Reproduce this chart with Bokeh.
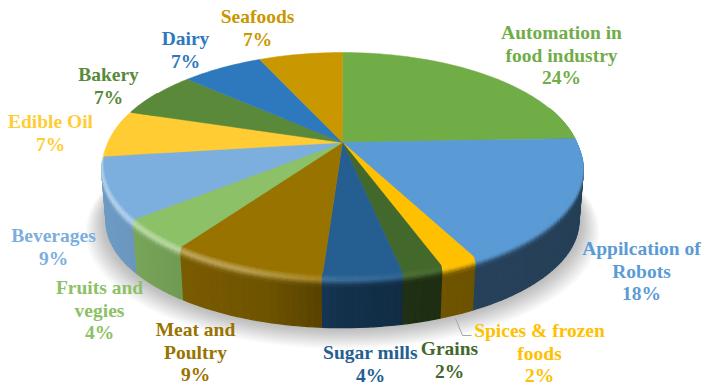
import numpy as np
from bokeh.embed import file_html
from bokeh.models import ColumnDataSource, Range1d
from bokeh.plotting import figure
from bokeh.resources import INLINE
from bokeh.core.properties import value

# Slice data, clockwise from twelve o'clock
names = ["Automation in\nfood industry", "Appilcation of\nRobots", "Spices & frozen\nfoods", "Grains",
         "Sugar mills", "Meat and\nPoultry", "Fruits and\nvegies", "Beverages",
         "Edible Oil", "Bakery", "Dairy", "Seafoods"]
shares = [24.4, 17.9, 2.1, 2.3, 4.4, 8.7, 4.4, 8.8, 6.8, 6.8, 6.6, 6.8]
colors = ["#70AD47", "#5B9BD5", "#FFC000", "#43682B", "#255E91", "#997300",
          "#8CC168", "#7CAFDD", "#FFCD33", "#5A8A39", "#2E78BD", "#C99700"]
label_x = [561, 641, 539, 449, 370, 195, 99, 53, 50, 108, 185, 257]
label_y = [32, 248, 330, 348, 352, 329, 287, 235, 121, 74, 38, 16]

# Pie geometry in page pixels
CX, CY = 342.0, 142.0
RX, RY, PERSP = 234.0, 107.0, 0.189
DROP, SHRINK_X, SHRINK_Y = 58.0, 0.02, 0.05
BEVEL_DEPTH, BEVEL_FLARE = 0.20, 0.012
LINE_STEP = 22.5


def project(theta, r=1.0, d=0.0):
    """Map a polar point on the disc at depth d (0 top, 1 bottom) to the page."""
    t = np.radians(theta)
    u, v = r * np.sin(t), r * np.cos(t)
    w = 1 + PERSP * v
    return (CX + RX * u / w * (1 - SHRINK_X * d),
            CY - RY * v / w * (1 - SHRINK_Y * d) + DROP * d)


def rgb(hex_color):
    return np.array([int(hex_color[i:i + 2], 16) for i in (1, 3, 5)], float)


def to_hex(c):
    c = np.clip(np.round(c), 0, 255).astype(int)
    return "#%02x%02x%02x" % tuple(c)


def wall_factor(theta):
    return np.interp(theta, [90, 150, 165, 180, 195, 215, 235, 270],
                     [0.40, 0.42, 0.45, 0.52, 0.72, 0.80, 0.87, 0.90])


def rim_light(theta):
    return np.interp(theta, [150, 180, 200, 240, 270, 290, 310],
                     [0.0, 0.10, 0.34, 0.45, 0.45, 0.30, 0.0])


def bevel_color(base, theta, t):
    wall = base * wall_factor(theta)
    lit = base + (np.array([255, 255, 255]) - base) * rim_light(theta)
    if t < 0.4:
        return base + (lit - base) * t / 0.4
    return lit + (wall - lit) * (t - 0.4) / 0.6


edges = np.concatenate([[0], np.cumsum(shares)]) / sum(shares) * 360

p = figure(width=702, height=385, output_backend="svg", toolbar_location=None,
           x_range=Range1d(0, 702), y_range=Range1d(385, 0), min_border=0,
           outline_line_color=None, background_fill_color="white", border_fill_color="white")
p.axis.visible = False
p.grid.visible = False

# Soft drop shadow: stacked translucent outlines around the base
angles = np.arange(0, 360, 2.0)
for i in range(1, 15):
    sx, sy = project(angles, 1 + BEVEL_FLARE + 0.006 * i, 1.0)
    p.patch(sx, sy + 0.55 * i, fill_color="#000000", fill_alpha=0.02, line_color=None)

# Outer wall and rim of the front half, in narrow angular strips, far ones first
strips = []
BANDS = np.linspace(0, 1, 9)
for k, col in enumerate(colors):
    base = rgb(col)
    a0, a1 = max(edges[k], 70), min(edges[k + 1], 300)
    if a1 <= a0:
        continue
    steps = np.linspace(a0, a1, int(np.ceil((a1 - a0) / 1.5)) + 1)
    for s0, s1 in zip(steps[:-1], steps[1:]):
        mid = (s0 + s1) / 2
        # wall from the foot of the rim to the bottom edge
        r = 1 + BEVEL_FLARE
        x0, y0 = project(s0, r, BEVEL_DEPTH)
        x1, y1 = project(s1, r, BEVEL_DEPTH)
        x2, y2 = project(s1, r, 1.0)
        x3, y3 = project(s0, r, 1.0)
        strips.append((abs(mid - 180), [x0, x1, x2, x3], [y0, y1, y2, y3],
                       to_hex(base * wall_factor(mid))))
        # rim rows from the face edge down to the wall
        for t0, t1 in zip(BANDS[:-1], BANDS[1:]):
            r0 = 1 + BEVEL_FLARE * min(1, 2 * t0)
            r1 = 1 + BEVEL_FLARE * min(1, 2 * t1)
            x0, y0 = project(s0, r0, BEVEL_DEPTH * t0)
            x1, y1 = project(s1, r0, BEVEL_DEPTH * t0)
            x2, y2 = project(s1, r1, BEVEL_DEPTH * t1)
            x3, y3 = project(s0, r1, BEVEL_DEPTH * t1)
            strips.append((abs(mid - 180), [x0, x1, x2, x3], [y0, y1, y2, y3],
                           to_hex(bevel_color(base, mid, (t0 + t1) / 2))))
strips.sort(key=lambda s: -s[0])
p.patches("xs", "ys",
          source=ColumnDataSource(dict(xs=[s[1] for s in strips], ys=[s[2] for s in strips],
                                       fill=[s[3] for s in strips])),
          fill_color="fill", line_color="fill", line_width=1.2)

# Flat top face
xs, ys = [], []
for k in range(len(shares)):
    arc = np.linspace(edges[k], edges[k + 1], int(np.ceil(edges[k + 1] - edges[k])) + 2)
    ax, ay = project(arc)
    xs.append([CX] + list(ax))
    ys.append([CY] + list(ay))
p.patches("xs", "ys", source=ColumnDataSource(dict(xs=xs, ys=ys, fill=colors)),
          fill_color="fill", line_color="fill", line_width=0.5)

# Leader for the small Spices slice
p.line([455, 462, 471], [318, 335, 335], line_color="#a6a6a6", line_width=1)

# Labels: name lines followed by the rounded share
tx, ty, tt, tc = [], [], [], []
for k, name in enumerate(names):
    lines = name.split("\n") + ["%d%%" % round(shares[k])]
    for j, line in enumerate(lines):
        tx.append(label_x[k])
        ty.append(label_y[k] + j * LINE_STEP)
        tt.append(line)
        tc.append(colors[k])
p.text("x", "y", text="t", source=ColumnDataSource(dict(x=tx, y=ty, t=tt, c=tc)),
       text_color="c", text_font=value("Liberation Serif"), text_font_style="bold",
       text_font_size="19.5px", text_align="center", text_baseline="middle")

open("out.html", "w").write(file_html(p, INLINE))
